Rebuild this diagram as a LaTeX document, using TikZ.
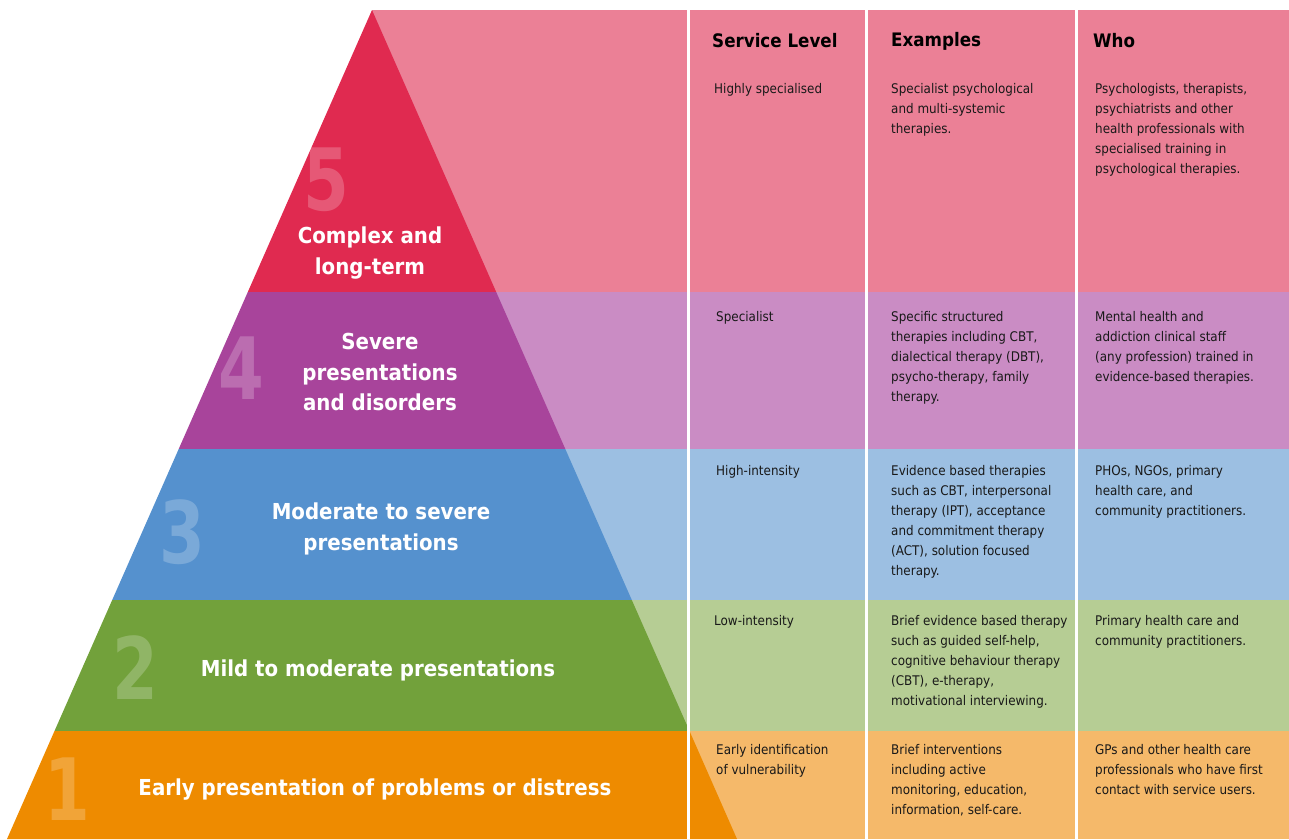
\documentclass[tikz,border=0pt]{standalone}
\usepackage{fontspec}
\setmainfont{DejaVu Sans Condensed}

\definecolor{fivedark}{HTML}{E02A50}
\definecolor{fivelight}{HTML}{EB8096}
\definecolor{fourdark}{HTML}{A8449B}
\definecolor{fourlight}{HTML}{CA8CC4}
\definecolor{threedark}{HTML}{5591CE}
\definecolor{threelight}{HTML}{9CBFE2}
\definecolor{twodark}{HTML}{72A13B}
\definecolor{twolight}{HTML}{B6CD94}
\definecolor{onedark}{HTML}{EE8B00}
\definecolor{onelight}{HTML}{F5B96A}

\begin{document}
\begin{tikzpicture}[
	x=1pt,y=-1pt,
	level/.style={
		text=white,
		align=center,
		inner sep=0pt,
		font=\bfseries\fontsize{22}{30.5}\selectfont,
	},
	bignum/.style={
		text=white,
		text opacity=0.22,
		inner sep=0pt,
		xscale=0.85,
		font=\bfseries\fontsize{86}{86}\selectfont,
	},
	head/.style={
		anchor=west,
		inner sep=0pt,
		font=\bfseries\fontsize{18.6}{20}\selectfont,
	},
	cell/.style={
		anchor=north west,
		align=left,
		inner sep=0pt,
		text=black!90,
		font=\fontsize{13.3}{20}\selectfont,
	},
	divider/.style={white,line width=3pt}
]

\useasboundingbox (0,0) rectangle (1289,839);

% Table rows
\fill[fivelight]  (372,10)  rectangle (1289,292);
\fill[fourlight]  (372,292) rectangle (1289,449);
\fill[threelight] (372,449) rectangle (1289,600);
\fill[twolight]   (372,600) rectangle (1289,731);
\fill[onelight]   (372,731) rectangle (1289,839);

% Pyramid bands
\fill[fivedark]  (372,10) -- (496.2,292) -- (247.8,292) -- cycle;
\fill[fourdark]  (247.8,292) -- (496.2,292) -- (565.3,449) -- (178.7,449) -- cycle;
\fill[threedark] (178.7,449) -- (565.3,449) -- (631.8,600) -- (112.2,600) -- cycle;
\fill[twodark]   (112.2,600) -- (631.8,600) -- (689.5,731) -- (54.5,731) -- cycle;
\fill[onedark]   (54.5,731) -- (689.5,731) -- (737,839) -- (7,839) -- cycle;

% Column dividers
\draw[divider] (688,10) -- (688,839);
\draw[divider] (866,10) -- (866,839);
\draw[divider] (1076,10) -- (1076,839);

% Level numbers
\node[bignum] (num5) at (326,180) {5};
\node[bignum] (num4) at (241,368) {4};
\node[bignum] (num3) at (182,532) {3};
\node[bignum] (num2) at (135,668) {2};
\node[bignum] (num1) at (67,789) {1};

% Level labels
\node[level] (lvl5) at (370,253) {Complex and\\long-term};
\node[level] (lvl4) at (380,372) {Severe\\presentations\\and disorders};
\node[level] (lvl3) at (381,529) {Moderate to severe\\presentations};
\node[level] (lvl2) at (378,670) {Mild to moderate presentations};
\node[level] (lvl1) at (375,789) {Early presentation of problems or distress};

% Headings
\node[head] (hdlevel) at (712,41) {Service Level};
\node[head] (hdex) at (891,41) {Examples};
\node[head] (hdwho) at (1093,41) {Who};

% Row 5
\node[cell] (sl5) at (714,83) {Highly specialised};
\node[cell] (ex5) at (891,83) {Specialist psychological\\and multi-systemic\\therapies.};
\node[cell] (who5) at (1095,83) {Psychologists, therapists,\\psychiatrists and other\\health professionals with\\specialised training in\\psychological therapies.};

% Row 4
\node[cell] (sl4) at (716,311) {Specialist};
\node[cell] (ex4) at (891,311) {Specific structured\\therapies including CBT,\\dialectical therapy (DBT),\\psycho-therapy, family\\therapy.};
\node[cell] (who4) at (1095,311) {Mental health and\\addiction clinical staff\\(any profession) trained in\\evidence-based therapies.};

% Row 3
\node[cell] (sl3) at (716,465) {High-intensity};
\node[cell] (ex3) at (891,465) {Evidence based therapies\\such as CBT, interpersonal\\therapy (IPT), acceptance\\and commitment therapy\\(ACT), solution focused\\therapy.};
\node[cell] (who3) at (1095,465) {PHOs, NGOs, primary\\health care, and\\community practitioners.};

% Row 2
\node[cell] (sl2) at (714,615) {Low-intensity};
\node[cell] (ex2) at (891,615) {Brief evidence based therapy\\such as guided self-help,\\cognitive behaviour therapy\\(CBT), e-therapy,\\motivational interviewing.};
\node[cell] (who2) at (1095,615) {Primary health care and\\community practitioners.};

% Row 1
\node[cell] (sl1) at (716,744) {Early identification\\of vulnerability};
\node[cell] (ex1) at (891,744) {Brief interventions\\including active\\monitoring, education,\\information, self-care.};
\node[cell] (who1) at (1095,744) {GPs and other health care\\professionals who have first\\contact with service users.};

\end{tikzpicture}
\end{document}
